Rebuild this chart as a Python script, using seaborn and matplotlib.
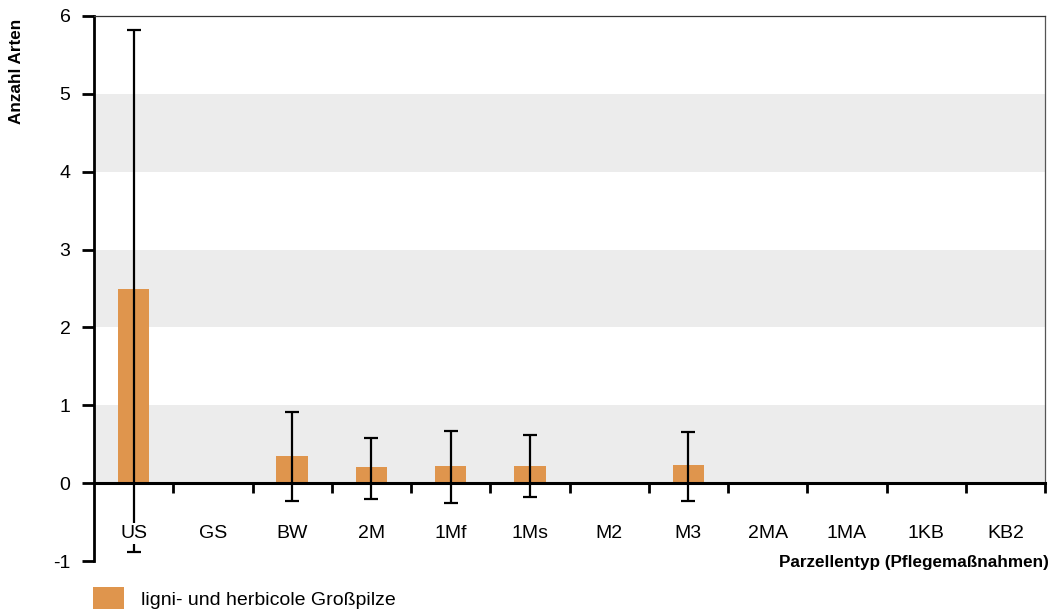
import numpy as np
import pandas as pd
import matplotlib
matplotlib.use("Agg")
import matplotlib.pyplot as plt
import matplotlib.patches as mpatches
import seaborn as sns

categories = ["US", "GS", "BW", "2M", "1Mf", "1Ms", "M2", "M3", "2MA", "1MA", "1KB", "KB2"]
means = [2.5, 0, 0.35, 0.21, 0.22, 0.22, 0, 0.23, 0, 0, 0, 0]
err_upper = [5.82, np.nan, 0.92, 0.58, 0.67, 0.62, np.nan, 0.66, np.nan, np.nan, np.nan, np.nan]
err_lower = [-0.88, np.nan, -0.235, -0.20, -0.25, -0.18, np.nan, -0.235, np.nan, np.nan, np.nan, np.nan]
y_ticks = [-1, 0, 1, 2, 3, 4, 5, 6]
bands = [(0, 1), (2, 3), (4, 5)]
series_name = "ligni- und herbicole Großpilze"
bar_color = "#DF954D"

sns.set_style("white")
plt.rcParams["font.family"] = ["Liberation Sans", "DejaVu Sans"]
plt.rcParams["text.color"] = "black"
plt.rcParams["xtick.color"] = "black"
plt.rcParams["ytick.color"] = "black"
plt.rcParams["axes.labelcolor"] = "black"

fig = plt.figure(figsize=(10.56, 6.13), dpi=100)
ax = fig.add_axes([94/1056, 1 - 561/613, (1045 - 94)/1056, (561 - 16)/613])

for lo, hi in bands:
    ax.axhspan(lo, hi, color="#ececec", zorder=0, lw=0)

df = pd.DataFrame({"Parzellentyp": categories, "Arten": means})
sns.barplot(data=df, x="Parzellentyp", y="Arten", color=bar_color, width=0.4,
            saturation=1, ax=ax, zorder=2, errorbar=None, linewidth=0, edgecolor="none")

m = np.array(means, dtype=float)
up = np.array(err_upper, dtype=float)
lo = np.array(err_lower, dtype=float)
xs = np.arange(len(categories))
ax.errorbar(xs, m, yerr=[m - lo, up - m], fmt="none", ecolor="black",
            elinewidth=1.6, capsize=5, capthick=1.6, zorder=3)

ax.set_xlim(-0.5, len(categories) - 0.5)
ax.set_ylim(-1, 6)
ax.set_yticks(y_ticks)
ax.set_yticklabels([str(t) for t in y_ticks], fontsize=14)

ax.spines["bottom"].set_position(("data", 0))
ax.spines["bottom"].set_linewidth(2.2)
ax.spines["bottom"].set_color("black")
ax.spines["left"].set_linewidth(2.0)
ax.spines["left"].set_color("black")
ax.spines["top"].set_linewidth(0.9)
ax.spines["top"].set_color("#333333")
ax.spines["right"].set_linewidth(0.9)
ax.spines["right"].set_color("#555555")
ax.spines["right"].set_bounds(0, 6)
for s in ax.spines.values():
    s.set_zorder(4)

ax.tick_params(axis="y", direction="out", length=9, width=2, pad=8, left=True)
ax.set_xticks(xs)
ax.set_xticks(np.arange(len(categories)) + 0.5, minor=True)
ax.tick_params(axis="x", which="major", length=0, pad=30, labelsize=14)
ax.tick_params(axis="x", which="minor", direction="out", length=7, width=2, bottom=True)
for lab in ax.get_xticklabels():
    lab.set_bbox(dict(facecolor="white", edgecolor="none", pad=1.5))
ax.xaxis.set_zorder(4.5)
ax.set_xlabel("")
ax.set_ylabel("")

fig.text(1049/1056, 1 - 562/613, "Parzellentyp (Pflegemaßnahmen)", ha="right", va="center",
         fontsize=12.3, fontweight="bold")
fig.text(17/1056, 1 - 71/613, "Anzahl Arten", rotation=90, ha="center", va="center",
         fontsize=12.3, fontweight="bold")

handle = mpatches.Patch(color=bar_color, label=series_name, linewidth=0)
fig.legend(handles=[handle], loc="lower left", bbox_to_anchor=(93/1056, 0.006),
           frameon=False, fontsize=14, handlelength=1.6, handleheight=1.35,
           handletextpad=0.85, borderaxespad=0, borderpad=0)

fig.savefig("out.png", dpi=100)
